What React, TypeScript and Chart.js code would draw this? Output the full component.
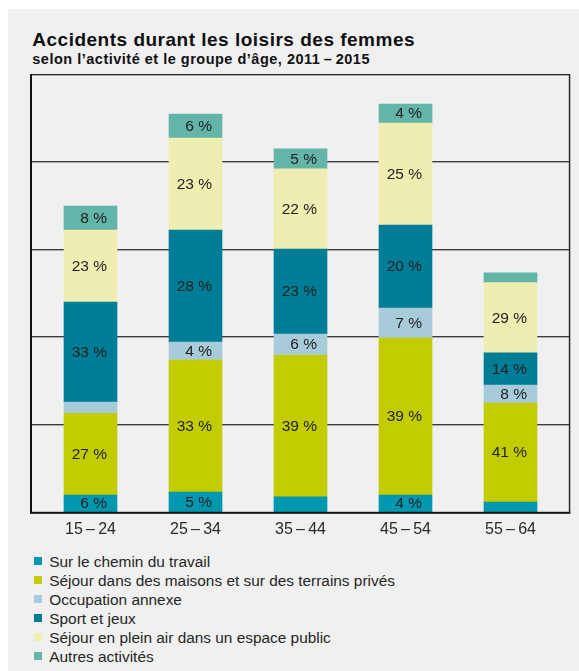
import React, { useEffect, useRef } from 'react';
import { Chart, registerables } from 'chart.js';

Chart.register(...registerables);

// ---- data ----
const title = 'Accidents durant les loisirs des femmes';
const subtitle = 'selon l\u2019activité et le groupe d\u2019âge, 2011\u2009\u2013\u20092015';

const categories = ['15\u2009\u2013\u200924', '25\u2009\u2013\u200934', '35\u2009\u2013\u200944', '45\u2009\u2013\u200954', '55\u2009\u2013\u200964'];

const seriesNames = [
  'Sur le chemin du travail',
  'Séjour dans des maisons et sur des terrains privés',
  'Occupation annexe',
  'Sport et jeux',
  'Séjour en plein air dans un espace public',
  'Autres activités',
];

const seriesColors = ['#0097b0', '#c2cc00', '#a7cbd9', '#007d96', '#eeeeb3', '#63b4a9'];

// estimated number of accidents
const chemin = [1980, 2320, 1780, 1980, 1180];
const maisons = [9340, 15090, 16170, 17950, 11320];
const occupation = [1290, 2060, 2440, 3430, 2060];
const sport = [11430, 12810, 9720, 9490, 3660];
const pleinAir = [8230, 10520, 9150, 11660, 8040];
const autres = [2740, 2740, 2290, 2170, 1110];

// percentage labels printed in the segments
const pctChemin = ['6 %', '5 %', '', '4 %', ''];
const pctMaisons = ['27 %', '33 %', '39 %', '39 %', '41 %'];
const pctOccupation = ['', '4 %', '6 %', '7 %', '8 %'];
const pctSport = ['33 %', '28 %', '23 %', '20 %', '14 %'];
const pctPleinAir = ['23 %', '23 %', '22 %', '25 %', '29 %'];
const pctAutres = ['8 %', '6 %', '5 %', '4 %', ''];

const yMax = 50000;
const gridValues = [10000, 20000, 30000, 40000];

const seriesValues = [chemin, maisons, occupation, sport, pleinAir, autres];
const seriesPct = [pctChemin, pctMaisons, pctOccupation, pctSport, pctPleinAir, pctAutres];

const FONT = '"Liberation Sans", Arial, Helvetica, sans-serif';

const framePlugin = {
  id: 'frame',
  beforeDatasetsDraw(chart: any) {
    const { ctx, chartArea, scales } = chart;
    const y = scales.y;
    const L = chartArea.left - 7;
    const R = chartArea.right + 6.3;
    ctx.save();
    gridValues.forEach((v) => {
      const py = Math.round(y.getPixelForValue(v));
      ctx.fillStyle = '#3c3c3c';
      ctx.fillRect(L, py - 1, R - L, 1);
      ctx.fillStyle = '#a9a9a9';
      ctx.fillRect(L, py, R - L, 1);
    });
    const top = Math.round(y.getPixelForValue(yMax));
    ctx.fillStyle = '#2a2a2a';
    ctx.fillRect(L, top - 1, R - L, 1);
    ctx.fillStyle = '#a9a9a9';
    ctx.fillRect(L, top, R - L, 1);
    ctx.restore();
  },
  afterDatasetsDraw(chart: any) {
    const { ctx, chartArea, scales } = chart;
    const y = scales.y;
    const L = chartArea.left - 7;
    const R = chartArea.right + 6.3;
    const top = y.getPixelForValue(yMax) - 1;
    const bottom = y.getPixelForValue(0);
    ctx.save();
    // labels
    ctx.font = `15.5px ${FONT}`;
    ctx.fillStyle = '#1f1f1f';
    ctx.textAlign = 'right';
    ctx.textBaseline = 'middle';
    seriesPct.forEach((labels, i) => {
      const meta = chart.getDatasetMeta(i);
      labels.forEach((t, j) => {
        if (!t) return;
        const el: any = meta.data[j];
        const p = el.getProps(['x', 'y', 'base', 'width'], true);
        ctx.fillText(t, p.x + p.width / 2 - 10, (p.y + p.base) / 2 + 0.5);
      });
    });
    // frame
    ctx.fillStyle = '#111';
    ctx.fillRect(L - 1, top, 2, bottom - top + 1);
    ctx.fillRect(L - 1, bottom - 0.5, R - L + 2, 2);
    ctx.fillStyle = '#2a2a2a';
    ctx.fillRect(R - 0.5, top, 1.5, bottom - top + 1);
    ctx.restore();
  },
};

function ChartCanvas() {
  const ref = useRef<HTMLCanvasElement | null>(null);
  useEffect(() => {
    if (!ref.current) return;
    const chart = new Chart(ref.current, {
      type: 'bar',
      data: {
        labels: categories,
        datasets: seriesNames.map((name, i) => ({
          label: name,
          data: seriesValues[i],
          backgroundColor: seriesColors[i],
          borderWidth: 0,
          barThickness: 53,
        })),
      },
      options: {
        animation: false,
        responsive: false,
        devicePixelRatio: 1,
        layout: { padding: { left: 30, right: 16, top: 66, bottom: 0 } },
        plugins: {
          legend: { display: false },
          tooltip: { enabled: false },
          title: { display: false },
        },
        scales: {
          x: {
            stacked: true,
            offset: true,
            grid: { display: false, drawTicks: false },
            border: { display: false },
            ticks: {
              color: '#2a2a2a',
              font: { family: FONT, size: 16 },
              padding: 8,
            },
            afterFit: (s: any) => {
              s.height = 36.7;
            },
          },
          y: {
            stacked: true,
            display: false,
            min: 0,
            max: yMax,
          },
        },
      },
      plugins: [framePlugin],
    });
    return () => chart.destroy();
  }, []);
  return (
    <canvas
      ref={ref}
      width={571}
      height={540}
      style={{ position: 'absolute', left: 0, top: 0, width: 571, height: 540 }}
    />
  );
}

export default function App() {
  return (
    <div
      style={{
        position: 'fixed',
        left: 8,
        top: 9,
        right: 0,
        bottom: 0,
        background: '#f0f0f0',
        fontFamily: FONT,
        color: '#111',
        overflow: 'hidden',
      }}
    >
      <div
        style={{
          position: 'absolute',
          left: 24.3,
          top: 20.6,
          fontSize: 19,
          fontWeight: 'bold',
          letterSpacing: '0.5px',
          lineHeight: '19px',
          whiteSpace: 'nowrap',
        }}
      >
        {title}
      </div>
      <div
        style={{
          position: 'absolute',
          left: 24.3,
          top: 43.2,
          fontSize: 14.5,
          fontWeight: 'bold',
          letterSpacing: '0.5px',
          lineHeight: '14.5px',
          whiteSpace: 'nowrap',
        }}
      >
        {subtitle}
      </div>
      <ChartCanvas />
      {seriesNames.map((name, i) => (
        <div
          key={name}
          style={{
            position: 'absolute',
            left: 26.3,
            top: 543.1 + i * 18.9,
            height: 19.2,
            lineHeight: '19.2px',
            fontSize: 15.4,
            color: '#262626',
            whiteSpace: 'nowrap',
          }}
        >
          <span
            style={{
              position: 'absolute',
              left: 0,
              top: 5.2,
              width: 8,
              height: 8,
              background: seriesColors[i],
            }}
          />
          <span style={{ position: 'absolute', left: 15, top: 0 }}>{name}</span>
        </div>
      ))}
    </div>
  );
}
